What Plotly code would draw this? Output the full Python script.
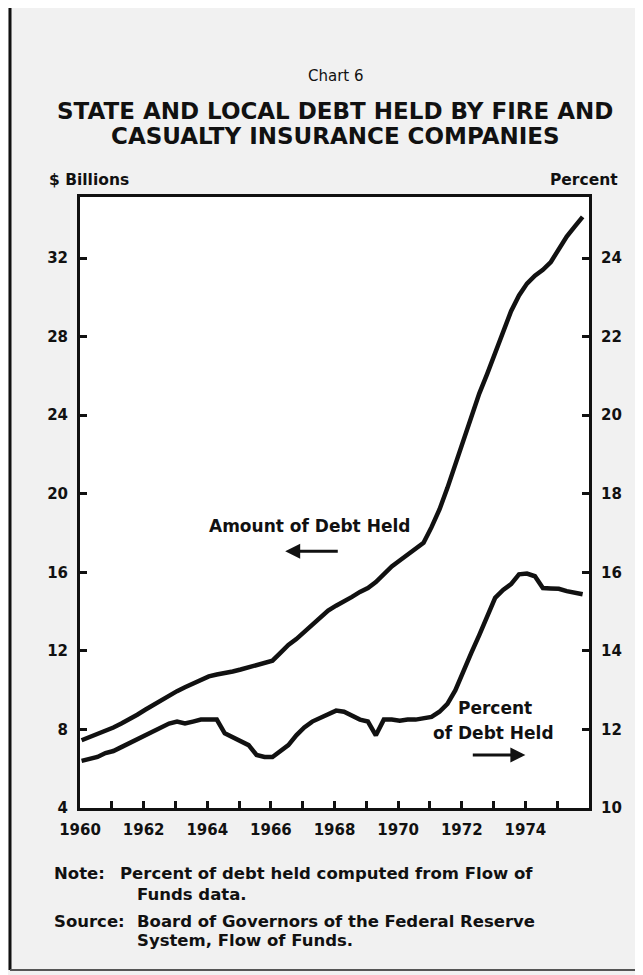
import plotly.graph_objects as go

years = list(range(1960, 1976))
quarter_offsets = [0.05, 0.30, 0.55, 0.80]

amount_held = [
    7.45, 7.6, 7.8, 7.95,
    8.1, 8.3, 8.5, 8.75,
    9.0, 9.25, 9.5, 9.75,
    9.95, 10.15, 10.35, 10.55,
    10.7, 10.8, 10.85, 10.95,
    11.05, 11.15, 11.25, 11.4,
    11.5, 11.9, 12.3, 12.6,
    12.95, 13.3, 13.65, 14.05,
    14.3, 14.5, 14.75, 15.0,
    15.2, 15.5, 15.9, 16.3,
    16.6, 16.9, 17.2, 17.5,
    18.3, 19.2, 20.3, 21.5,
    22.7, 23.9, 25.1, 26.1,
    27.2, 28.3, 29.3, 30.1,
    30.7, 31.1, 31.4, 31.8,
    32.5, 33.1, 33.6, 34.1,
]

percent_held = [
    11.2, 11.25, 11.3, 11.4,
    11.45, 11.55, 11.65, 11.75,
    11.85, 11.95, 12.05, 12.15,
    12.2, 12.15, 12.2, 12.25,
    12.25, 12.25, 11.9, 11.8,
    11.7, 11.6, 11.35, 11.3,
    11.3, 11.45, 11.6, 11.85,
    12.05, 12.2, 12.3, 12.4,
    12.48, 12.45, 12.35, 12.25,
    12.2, 11.85, 12.25, 12.25,
    12.22, 12.25, 12.25, 12.28,
    12.32, 12.45, 12.65, 13.0,
    13.5, 13.95, 14.4, 14.85,
    15.35, 15.55, 15.7, 15.95,
    15.97, 15.9, 15.6, 15.59,
    15.58, 15.52, 15.47, 15.44,
]

x_tick_years = list(range(1960, 1976))
x_tick_labels = [str(y) if y % 2 == 0 else "" for y in x_tick_years]
left_ticks = [4, 8, 12, 16, 20, 24, 28, 32]
right_ticks = [10, 12, 14, 16, 18, 20, 22, 24]

quarters = [y + q for y in years for q in quarter_offsets]

FONT = "DejaVu Sans"
BLACK = "#111111"

fig = go.Figure()
fig.add_trace(go.Scatter(x=quarters, y=amount_held, mode="lines",
                         line=dict(color=BLACK, width=4.5), yaxis="y", hoverinfo="skip"))
fig.add_trace(go.Scatter(x=quarters, y=percent_held, mode="lines",
                         line=dict(color=BLACK, width=4.5), yaxis="y2", hoverinfo="skip"))

axis_common = dict(showline=True, linewidth=3, linecolor=BLACK, ticks="inside",
                   ticklen=7, tickwidth=2.5, tickcolor=BLACK, showgrid=False,
                   zeroline=False, tickfont=dict(family=FONT, size=15, color=BLACK, weight="bold"))

fig.update_layout(
    width=643, height=975,
    margin=dict(l=72, r=62, t=189, b=175),
    paper_bgcolor="#f1f1f1", plot_bgcolor="#ffffff",
    showlegend=False,
    xaxis=dict(range=[1960, 1976], tickmode="array", tickvals=x_tick_years,
               ticktext=x_tick_labels, mirror=True, ticklabelstandoff=6, **axis_common),
    yaxis=dict(range=[4, 35.11], tickmode="array", tickvals=left_ticks,
               mirror=False, ticklabelstandoff=6, **axis_common),
    yaxis2=dict(range=[10, 25.555], tickmode="array", tickvals=right_ticks,
                overlaying="y", side="right", ticklabelstandoff=6, **axis_common),
)

def txt(s, x, y, size, xanchor="center", xref="paper", yref="paper", bold=True):
    fig.add_annotation(text=(f"<b>{s}</b>" if bold else s), x=x, y=y, xref=xref, yref=yref,
                       xanchor=xanchor, yanchor="middle", showarrow=False,
                       font=dict(family=FONT, size=size, color=BLACK))

def px(xp):
    return (xp - 72) / (581 - 72)
def py(yp):
    return (800 - yp) / (800 - 189)

txt("Chart 6", px(328), py(68), 15, bold=False)
txt("STATE AND LOCAL DEBT HELD BY FIRE AND", px(327), py(103), 23)
txt("CASUALTY INSURANCE COMPANIES", px(327), py(128), 23)
txt("$ Billions", px(39), py(172), 15.5, xanchor="left")
txt("Percent", px(612), py(172), 15.5, xanchor="right")

# in-plot labels
txt("Amount of Debt Held", 1967.2, 18.34, 17, xref="x", yref="y")
fig.add_annotation(x=1966.45, y=17.07, ax=1968.15, ay=17.07, xref="x", yref="y",
                   axref="x", ayref="y", text="", showarrow=True, arrowhead=2,
                   arrowsize=1, arrowwidth=3, arrowcolor=BLACK)
txt("Percent", 1973.05, 9.1, 17, xref="x", yref="y")
txt("of Debt Held", 1973.0, 7.8, 17, xref="x", yref="y")
fig.add_annotation(x=1974.0, y=6.7, ax=1972.3, ay=6.7, xref="x", yref="y",
                   axref="x", ayref="y", text="", showarrow=True, arrowhead=2,
                   arrowsize=1, arrowwidth=3, arrowcolor=BLACK)

# notes
NS = 16.5
txt("Note:", px(44), py(866), NS, xanchor="left")
txt("Percent of debt held computed from Flow of", px(110), py(866), NS, xanchor="left")
txt("Funds data.", px(127), py(886), NS, xanchor="left")
txt("Source:", px(44), py(913), NS, xanchor="left")
txt("Board of Governors of the Federal Reserve", px(127), py(913), NS, xanchor="left")
txt("System, Flow of Funds.", px(127), py(933), NS, xanchor="left")

# page border
fig.add_shape(type="line", xref="paper", yref="paper", x0=px(2), x1=px(2), y0=py(0), y1=py(962),
              line=dict(color=BLACK, width=3))
fig.add_shape(type="line", xref="paper", yref="paper", x0=px(2), x1=px(641), y0=py(962), y1=py(962),
              line=dict(color="#555555", width=2))

fig.write_html("out.html")
